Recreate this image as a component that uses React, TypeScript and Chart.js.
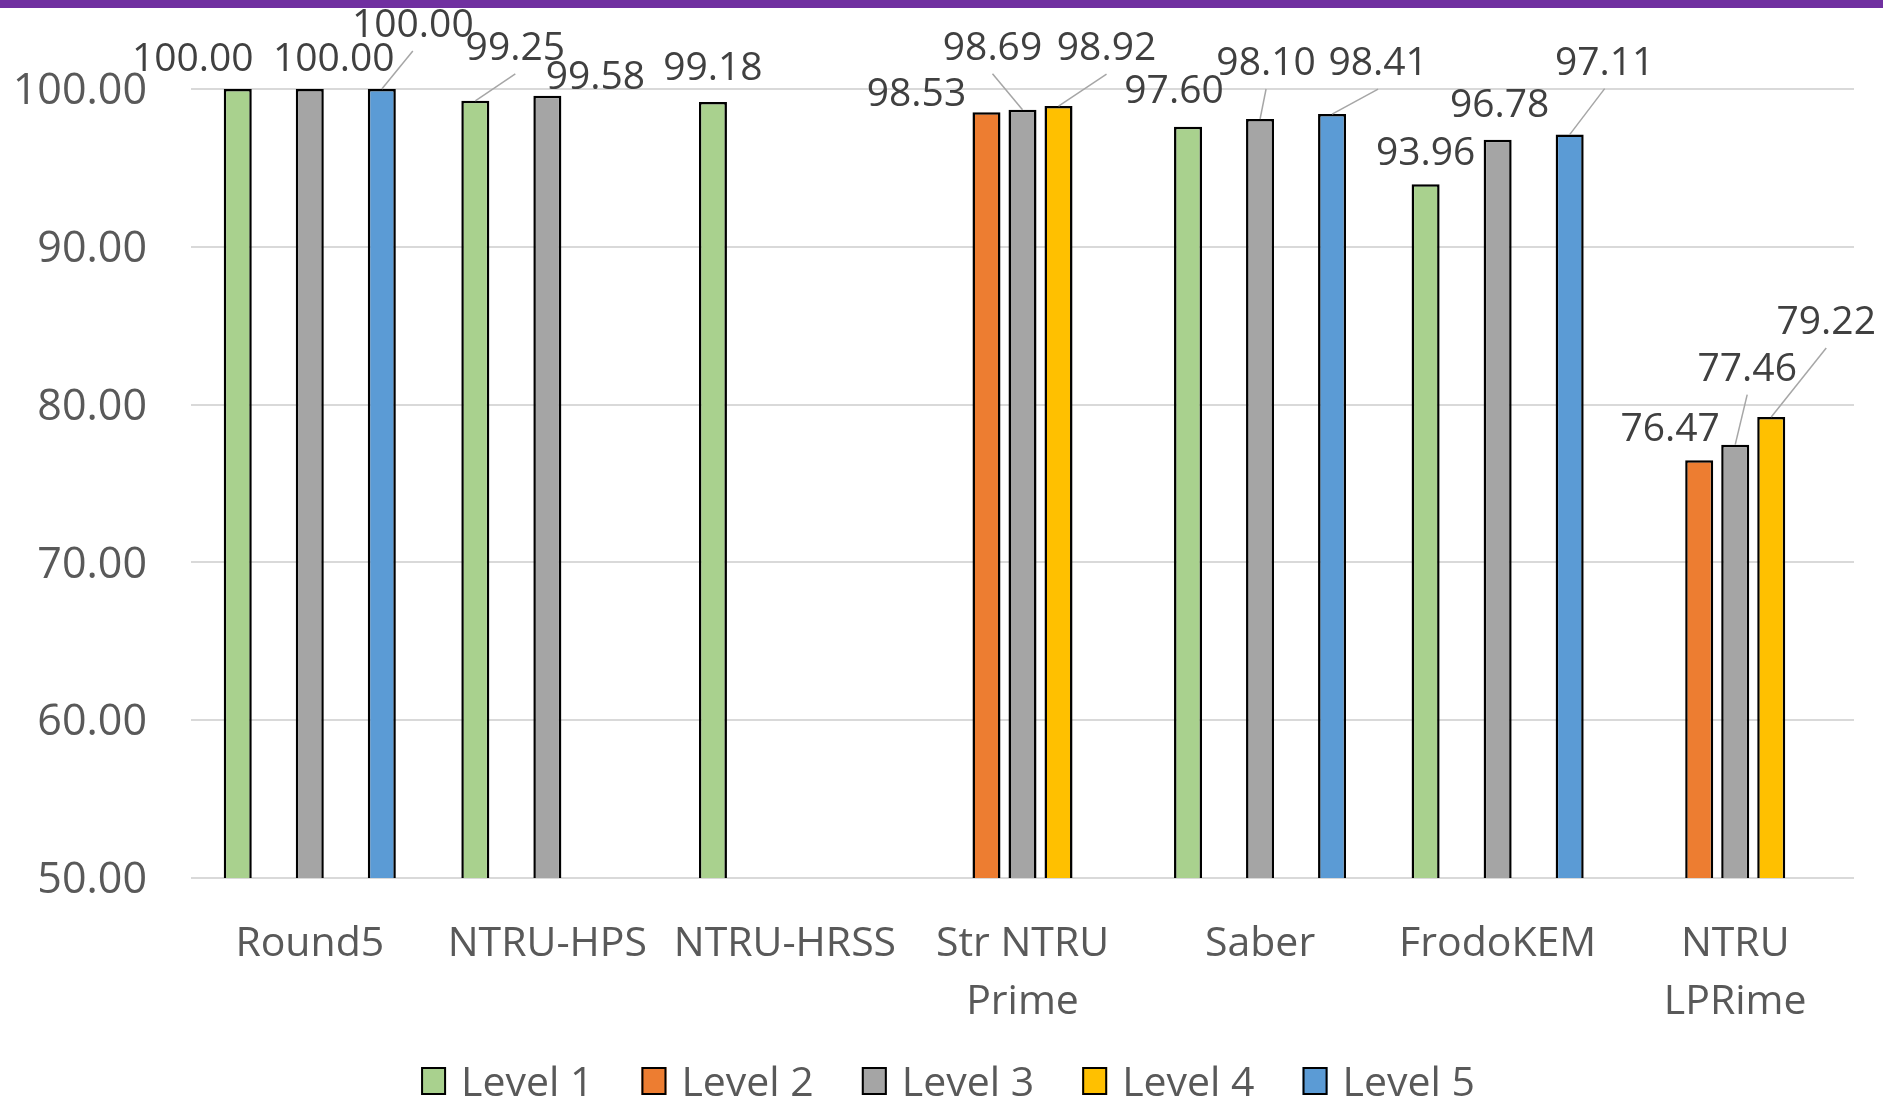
import React, { useEffect, useRef } from "react";
import { Chart, registerables } from "chart.js";

Chart.register(...registerables);

// Categories (schemes) and the success rate per NIST security level
const categories: (string | string[])[] = [
  "Round5",
  "NTRU-HPS",
  "NTRU-HRSS",
  ["Str NTRU", "Prime"],
  "Saber",
  "FrodoKEM",
  ["NTRU", "LPRime"],
];
const seriesNames = ["Level 1", "Level 2", "Level 3", "Level 4", "Level 5"];
const level1 = [100.0, 99.25, 99.18, null, 97.6, 93.96, null];
const level2 = [null, null, null, 98.53, null, null, 76.47];
const level3 = [100.0, 99.58, null, 98.69, 98.1, 96.78, 77.46];
const level4 = [null, null, null, 98.92, null, null, 79.22];
const level5 = [100.0, null, null, null, 98.41, 97.11, null];
const yMin = 50;
const yMax = 100;
const yStep = 10;

const seriesColors = ["#A9D18E", "#ED7D31", "#A5A5A5", "#FFC000", "#5B9BD5"];

// Value-label placement relative to the top centre of each bar: [dx, dy, leader line]
type Shift = [number, number, boolean] | null;
const shifts1: Shift[] = [[-45, -32, false], [40, -55, true], [0, -36, false], null, [-14, -38, false], [0, -33, false], null];
const shifts2: Shift[] = [null, null, null, [-70, -20, false], null, null, [-29, -33, false]];
const shifts3: Shift[] = [[24, -32, false], [48, -21, false], null, [-30, -64, true], [6, -58, true], [2, -37, false], [12, -78, true]];
const shifts4: Shift[] = [null, null, null, [48, -60, true], null, null, [55, -97, true]];
const shifts5: Shift[] = [[31, -66, true], null, null, null, [46, -53, true], [35, -74, true], null];

const FONT = "'Open Sans', 'Liberation Sans', sans-serif";

const valueLabels = {
  id: "valueLabels",
  afterDatasetsDraw(chart: any) {
    const ctx = chart.ctx;
    const shifts = [shifts1, shifts2, shifts3, shifts4, shifts5];
    ctx.save();
    chart.data.datasets.forEach((ds: any, di: number) => {
      const meta = chart.getDatasetMeta(di);
      meta.data.forEach((el: any, i: number) => {
        const v = ds.data[i];
        const s = shifts[di][i];
        if (v == null || !s) return;
        const cx = el.x + s[0];
        const cy = el.y + s[1];
        if (s[2]) {
          ctx.strokeStyle = "#A6A6A6";
          ctx.lineWidth = 1.5;
          ctx.beginPath();
          ctx.moveTo(cx, cy + 28);
          ctx.lineTo(el.x, el.y);
          ctx.stroke();
        }
        ctx.fillStyle = "#404040";
        ctx.font = `39px ${FONT}`;
        ctx.textAlign = "center";
        ctx.textBaseline = "alphabetic";
        ctx.fillText(Number(v).toFixed(2), cx, cy + 14);
      });
    });
    ctx.restore();
  },
};

const bottomLegend = {
  id: "bottomLegend",
  afterDraw(chart: any) {
    const ctx = chart.ctx;
    ctx.save();
    ctx.font = `41px ${FONT}`;
    const boxW = 25;
    const boxH = 28;
    const gapText = 15;
    const gapItem = 48;
    const widths = seriesNames.map((n) => ctx.measureText(n).width);
    const total =
      widths.reduce((a, w) => a + boxW + gapText + w, 0) + gapItem * (seriesNames.length - 1);
    let x = 948 - total / 2;
    const cy = 1081;
    seriesNames.forEach((name, i) => {
      ctx.fillStyle = seriesColors[i];
      ctx.fillRect(x, cy - boxH / 2, boxW, boxH);
      ctx.strokeStyle = "#000000";
      ctx.lineWidth = 2;
      ctx.strokeRect(x + 1, cy - boxH / 2 + 1, boxW - 2, boxH - 2);
      ctx.fillStyle = "#595959";
      ctx.textAlign = "left";
      ctx.textBaseline = "alphabetic";
      ctx.fillText(name, x + boxW + gapText, cy + 15);
      x += boxW + gapText + widths[i] + gapItem;
    });
    ctx.restore();
  },
};

export default function App() {
  const canvasRef = useRef<HTMLCanvasElement | null>(null);

  useEffect(() => {
    const canvas = canvasRef.current;
    if (!canvas) return;
    const seriesData = [level1, level2, level3, level4, level5];
    const chart = new Chart(canvas, {
      type: "bar",
      data: {
        labels: categories,
        datasets: seriesNames.map((name, i) => ({
          label: name,
          data: seriesData[i],
          backgroundColor: seriesColors[i],
          borderColor: "#000000",
          borderWidth: 2.5,
          categoryPercentage: 0.758,
          barPercentage: 0.778,
        })),
      },
      options: {
        responsive: false,
        animation: false,
        devicePixelRatio: 1,
        layout: { padding: { top: 89, right: 29, left: 0, bottom: 0 } },
        plugins: {
          legend: { display: false },
          tooltip: { enabled: false },
        },
        scales: {
          x: {
            grid: { display: false },
            border: { display: false },
            ticks: {
              color: "#595959",
              font: { family: FONT, size: 41, lineHeight: 58 / 41 },
              padding: 29,
              maxRotation: 0,
              autoSkip: false,
            },
            afterFit(scale: any) {
              scale.height = 222;
            },
          },
          y: {
            min: yMin,
            max: yMax,
            grid: { color: "#D9D9D9", lineWidth: 2, drawTicks: false },
            border: { display: false },
            ticks: {
              stepSize: yStep,
              color: "#595959",
              font: { family: FONT, size: 43 },
              padding: 44,
              labelOffset: 3,
              callback: (v: any) => Number(v).toFixed(2),
            },
            afterFit(scale: any) {
              scale.width = 191;
            },
          },
        },
      },
      plugins: [valueLabels, bottomLegend],
    });
    return () => chart.destroy();
  }, []);

  return (
    <div style={{ position: "absolute", left: 0, top: 0, width: 1883, height: 1100, background: "#FFFFFF" }}>
      <canvas ref={canvasRef} width={1883} height={1100} style={{ display: "block" }} />
      <div style={{ position: "absolute", left: 0, top: 0, width: 1883, height: 8, background: "#7030A0" }} />
    </div>
  );
}
